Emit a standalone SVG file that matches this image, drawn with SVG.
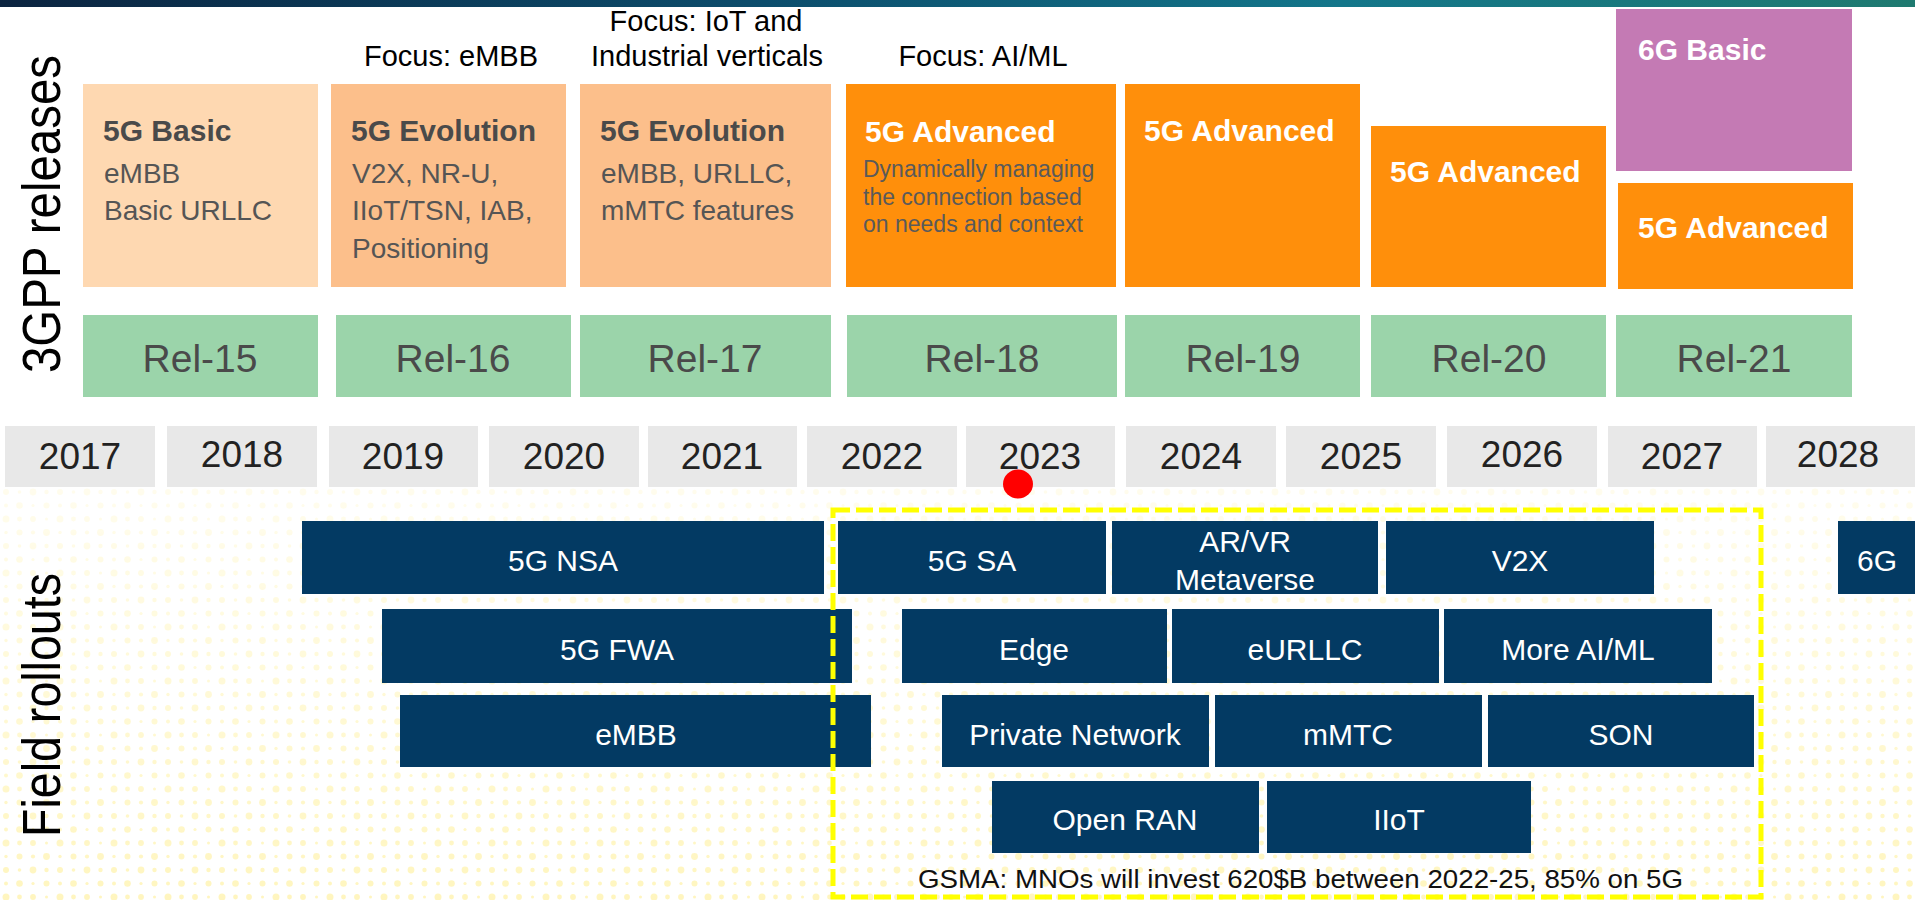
<svg xmlns="http://www.w3.org/2000/svg" width="1915" height="900" viewBox="0 0 1915 900">
<defs>
<linearGradient id="band" x1="0" y1="0" x2="1" y2="0">
<stop offset="0" stop-color="#0b2440"/>
<stop offset="0.4" stop-color="#0c4d6c"/>
<stop offset="0.7" stop-color="#13768a"/>
<stop offset="1" stop-color="#1f7a70"/>
</linearGradient>
<pattern id="dots" x="0" y="0" width="54" height="54" patternUnits="userSpaceOnUse">
<circle cx="6" cy="6" r="3" fill="#fff1a0"/>
<circle cx="19.5" cy="6" r="1.8" fill="#fff1a0"/>
<circle cx="33" cy="6" r="3.4" fill="#fff1a0"/>
<circle cx="46.5" cy="6" r="2.2" fill="#fff1a0"/>
<circle cx="6" cy="19.5" r="2" fill="#fff1a0"/>
<circle cx="19.5" cy="19.5" r="3.3" fill="#fff1a0"/>
<circle cx="33" cy="19.5" r="1.6" fill="#fff1a0"/>
<circle cx="46.5" cy="19.5" r="3" fill="#fff1a0"/>
<circle cx="6" cy="33" r="3.5" fill="#fff1a0"/>
<circle cx="19.5" cy="33" r="2.4" fill="#fff1a0"/>
<circle cx="33" cy="33" r="2.9" fill="#fff1a0"/>
<circle cx="46.5" cy="33" r="1.5" fill="#fff1a0"/>
<circle cx="6" cy="46.5" r="1.7" fill="#fff1a0"/>
<circle cx="19.5" cy="46.5" r="3" fill="#fff1a0"/>
<circle cx="33" cy="46.5" r="2.1" fill="#fff1a0"/>
<circle cx="46.5" cy="46.5" r="3.4" fill="#fff1a0"/>
</pattern>
<linearGradient id="fade" x1="0" y1="0" x2="0" y2="1">
<stop offset="0" stop-color="#fff" stop-opacity="0.25"/>
<stop offset="1" stop-color="#fff" stop-opacity="0.9"/>
</linearGradient>
<mask id="fadeMask">
<rect x="0" y="488" width="1915" height="412" fill="url(#fade)"/>
</mask>
<style>
text { font-family: "Liberation Sans", Arial, sans-serif; }
.side { font-size: 53px; fill: #000; }
.focus { font-size: 29px; fill: #000; text-anchor: middle; }
.ttl { font-size: 30px; font-weight: bold; }
.ttl-d { fill: #4a4a4a; }
.ttl-w { fill: #ffffff; }
.body { font-size: 28px; fill: #555555; }
.desc { font-size: 23px; fill: #5a5a5a; }
.basic { fill: #fed8b1; }
.evo { fill: #fcbf8b; }
.adv { fill: #ff8f0b; }
.g6 { fill: #c47ab4; }
.rel { fill: #9bd4aa; }
.reltxt { font-size: 39px; fill: #4a4a4a; text-anchor: middle; }
.year { fill: #e8e8e8; }
.yeartxt { font-size: 37px; fill: #222222; text-anchor: middle; }
.roll { fill: #033a63; }
.rolltxt { font-size: 30px; fill: #ffffff; text-anchor: middle; }
.note { font-size: 26px; fill: #111111; }
</style>
</defs>

<rect x="0" y="0" width="1915" height="900" fill="#ffffff"/>
<rect x="0" y="0" width="1915" height="7" fill="url(#band)"/>
<rect x="0" y="488" width="1915" height="412" fill="url(#dots)" mask="url(#fadeMask)" opacity="0.75"/>

<text class="side" transform="translate(60,373) rotate(-90)" textLength="318" lengthAdjust="spacingAndGlyphs">3GPP releases</text>
<text class="side" transform="translate(60,837) rotate(-90)" textLength="264" lengthAdjust="spacingAndGlyphs">Field rollouts</text>

<g id="focus-labels">
<text class="focus" x="451" y="66">Focus: eMBB</text>
<text class="focus" x="706" y="31">Focus: IoT and</text>
<text class="focus" x="707" y="66">Industrial verticals</text>
<text class="focus" x="983" y="66">Focus: AI/ML</text>
</g>

<g id="feat-rel15">
<rect class="basic" x="83" y="84" width="235" height="203"/>
<text class="ttl ttl-d" x="103" y="141">5G Basic</text>
<text class="body" x="104" y="183">eMBB</text>
<text class="body" x="104" y="220">Basic URLLC</text>
</g>
<g id="feat-rel16">
<rect class="evo" x="331" y="84" width="235" height="203"/>
<text class="ttl ttl-d" x="351" y="141">5G Evolution</text>
<text class="body" x="352" y="183">V2X, NR-U,</text>
<text class="body" x="352" y="220">IIoT/TSN, IAB,</text>
<text class="body" x="352" y="258">Positioning</text>
</g>
<g id="feat-rel17">
<rect class="evo" x="580" y="84" width="251" height="203"/>
<text class="ttl ttl-d" x="600" y="141">5G Evolution</text>
<text class="body" x="601" y="183">eMBB, URLLC,</text>
<text class="body" x="601" y="220">mMTC features</text>
</g>
<g id="feat-rel18">
<rect class="adv" x="846" y="84" width="270" height="203"/>
<text class="ttl ttl-w" x="865" y="142">5G Advanced</text>
<text class="desc" x="863" y="177">Dynamically managing</text>
<text class="desc" x="863" y="205">the connection based</text>
<text class="desc" x="863" y="232">on needs and context</text>
</g>
<g id="feat-rel19">
<rect class="adv" x="1125" y="84" width="235" height="203"/>
<text class="ttl ttl-w" x="1144" y="141">5G Advanced</text>
</g>
<g id="feat-rel20">
<rect class="adv" x="1371" y="126" width="235" height="161"/>
<text class="ttl ttl-w" x="1390" y="182">5G Advanced</text>
</g>
<g id="feat-6g-basic">
<rect class="g6" x="1616" y="9" width="236" height="162"/>
<text class="ttl ttl-w" x="1638" y="60">6G Basic</text>
</g>
<g id="feat-rel21">
<rect class="adv" x="1618" y="183" width="235" height="106"/>
<text class="ttl ttl-w" x="1638" y="238">5G Advanced</text>
</g>

<g id="rel-15"><rect class="rel" x="83" y="315" width="235" height="82"/><text class="reltxt" x="200" y="372">Rel-15</text></g>
<g id="rel-16"><rect class="rel" x="336" y="315" width="235" height="82"/><text class="reltxt" x="453" y="372">Rel-16</text></g>
<g id="rel-17"><rect class="rel" x="580" y="315" width="251" height="82"/><text class="reltxt" x="705" y="372">Rel-17</text></g>
<g id="rel-18"><rect class="rel" x="847" y="315" width="270" height="82"/><text class="reltxt" x="982" y="372">Rel-18</text></g>
<g id="rel-19"><rect class="rel" x="1125" y="315" width="235" height="82"/><text class="reltxt" x="1243" y="372">Rel-19</text></g>
<g id="rel-20"><rect class="rel" x="1371" y="315" width="235" height="82"/><text class="reltxt" x="1489" y="372">Rel-20</text></g>
<g id="rel-21"><rect class="rel" x="1616" y="315" width="236" height="82"/><text class="reltxt" x="1734" y="372">Rel-21</text></g>

<g id="year-2017"><rect class="year" x="5" y="426" width="150" height="61"/><text class="yeartxt" x="80" y="469">2017</text></g>
<g id="year-2018"><rect class="year" x="167" y="426" width="150" height="61"/><text class="yeartxt" x="242" y="467">2018</text></g>
<g id="year-2019"><rect class="year" x="329" y="426" width="149" height="61"/><text class="yeartxt" x="403" y="469">2019</text></g>
<g id="year-2020"><rect class="year" x="489" y="426" width="150" height="61"/><text class="yeartxt" x="564" y="469">2020</text></g>
<g id="year-2021"><rect class="year" x="648" y="426" width="149" height="61"/><text class="yeartxt" x="722" y="469">2021</text></g>
<g id="year-2022"><rect class="year" x="807" y="426" width="150" height="61"/><text class="yeartxt" x="882" y="469">2022</text></g>
<g id="year-2023"><rect class="year" x="966" y="426" width="149" height="61"/><text class="yeartxt" x="1040" y="469">2023</text></g>
<g id="year-2024"><rect class="year" x="1126" y="426" width="150" height="61"/><text class="yeartxt" x="1201" y="469">2024</text></g>
<g id="year-2025"><rect class="year" x="1286" y="426" width="150" height="61"/><text class="yeartxt" x="1361" y="469">2025</text></g>
<g id="year-2026"><rect class="year" x="1447" y="426" width="150" height="61"/><text class="yeartxt" x="1522" y="467">2026</text></g>
<g id="year-2027"><rect class="year" x="1608" y="426" width="149" height="61"/><text class="yeartxt" x="1682" y="469">2027</text></g>
<g id="year-2028"><rect class="year" x="1766" y="426" width="149" height="61"/><text class="yeartxt" x="1838" y="467">2028</text></g>

<g id="now-marker"><ellipse cx="1018" cy="484" rx="15" ry="14.5" fill="#ff0000"/></g>

<g id="r-5g-nsa"><rect class="roll" x="302" y="521" width="522" height="73"/><text class="rolltxt" x="563" y="571">5G NSA</text></g>
<g id="r-5g-sa"><rect class="roll" x="838" y="521" width="268" height="73"/><text class="rolltxt" x="972" y="571">5G SA</text></g>
<g id="r-arvr"><rect class="roll" x="1112" y="521" width="266" height="73"/><text class="rolltxt" x="1245" y="552">AR/VR</text><text class="rolltxt" x="1245" y="590">Metaverse</text></g>
<g id="r-v2x"><rect class="roll" x="1386" y="521" width="268" height="73"/><text class="rolltxt" x="1520" y="571">V2X</text></g>
<g id="r-6g"><rect class="roll" x="1838" y="521" width="77" height="73"/><text class="rolltxt" x="1877" y="571">6G</text></g>

<g id="r-5g-fwa"><rect class="roll" x="382" y="609" width="470" height="74"/><text class="rolltxt" x="617" y="660">5G FWA</text></g>
<g id="r-edge"><rect class="roll" x="902" y="609" width="265" height="74"/><text class="rolltxt" x="1034" y="660">Edge</text></g>
<g id="r-eurllc"><rect class="roll" x="1172" y="609" width="267" height="74"/><text class="rolltxt" x="1305" y="660">eURLLC</text></g>
<g id="r-more-aiml"><rect class="roll" x="1444" y="609" width="268" height="74"/><text class="rolltxt" x="1578" y="660">More AI/ML</text></g>

<g id="r-embb"><rect class="roll" x="400" y="695" width="471" height="72"/><text class="rolltxt" x="636" y="745">eMBB</text></g>
<g id="r-private"><rect class="roll" x="942" y="695" width="267" height="72"/><text class="rolltxt" x="1075" y="745">Private Network</text></g>
<g id="r-mmtc"><rect class="roll" x="1215" y="695" width="267" height="72"/><text class="rolltxt" x="1348" y="745">mMTC</text></g>
<g id="r-son"><rect class="roll" x="1488" y="695" width="266" height="72"/><text class="rolltxt" x="1621" y="745">SON</text></g>

<g id="r-open-ran"><rect class="roll" x="992" y="781" width="267" height="72"/><text class="rolltxt" x="1125" y="830">Open RAN</text></g>
<g id="r-iiot"><rect class="roll" x="1267" y="781" width="264" height="72"/><text class="rolltxt" x="1399" y="830">IIoT</text></g>

<g id="connectors"></g>

<g id="investment-window">
<rect x="833" y="510" width="928" height="387" fill="none" stroke="#ffff00" stroke-width="5" stroke-dasharray="17 6"/>
<text class="note" x="918" y="888" textLength="765" lengthAdjust="spacingAndGlyphs">GSMA: MNOs will invest 620$B between 2022-25, 85% on 5G</text>
</g>
</svg>
